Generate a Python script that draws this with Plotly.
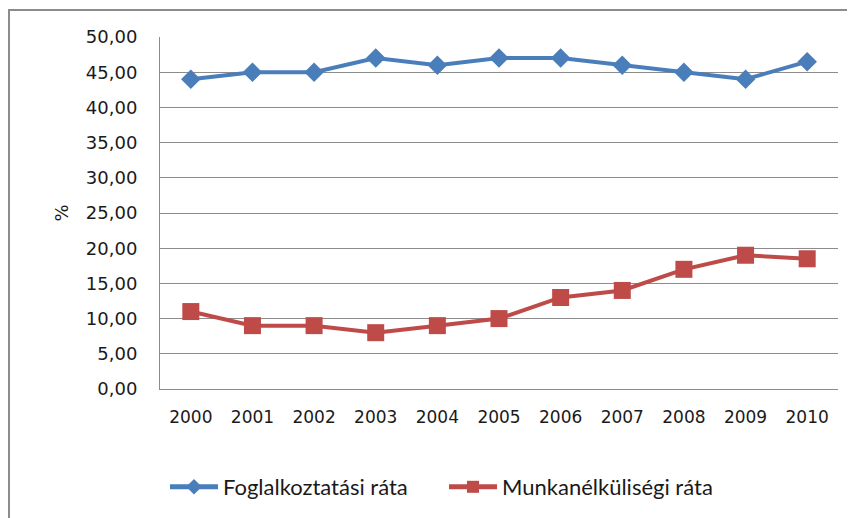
import plotly.graph_objects as go

years = ["2000", "2001", "2002", "2003", "2004", "2005", "2006", "2007", "2008", "2009", "2010"]
foglalkoztatasi = [44, 45, 45, 47, 46, 47, 47, 46, 45, 44, 46.5]
munkanelkulisegi = [11, 9, 9, 8, 9, 10, 13, 14, 17, 19, 18.5]
y_ticks = [0, 5, 10, 15, 20, 25, 30, 35, 40, 45, 50]
y_tick_labels = ["0,00", "5,00", "10,00", "15,00", "20,00", "25,00", "30,00", "35,00", "40,00", "45,00", "50,00"]

OFF = 8  # page body margin
W, H = 855, 518
L, T = 160 - OFF, 37 - OFF
R = W - (838 - OFF)
B = H - (389 - OFF)
pw, ph = W - L - R, H - T - B

def px_x(sx):
    return (sx - OFF - L) / pw

def px_y(sy):
    return (H - B - (sy - OFF)) / ph

fig = go.Figure()
fig.add_trace(go.Scatter(
    x=years, y=foglalkoztatasi, name="Foglalkoztatási ráta", mode="lines+markers",
    line=dict(color="#4A7EBB", width=4),
    marker=dict(symbol="diamond", size=15, color="#4A7EBB"),
))
fig.add_trace(go.Scatter(
    x=years, y=munkanelkulisegi, name="Munkanélküliségi ráta", mode="lines+markers",
    line=dict(color="#BE4B48", width=4),
    marker=dict(symbol="square", size=17, color="#BE4B48"),
))

# outer chart-area border (extends past right and bottom edges)
fig.add_shape(type="rect", xref="paper", yref="paper",
              x0=px_x(9), x1=px_x(W + 20),
              y0=px_y(H + 20), y1=px_y(10),
              line=dict(color="#8C8C8C", width=2), fillcolor="rgba(0,0,0,0)", layer="below")

fig.update_layout(
    width=W, height=H,
    margin=dict(l=L, r=R, t=T, b=B, autoexpand=False),
    paper_bgcolor="white", plot_bgcolor="white",
    font=dict(family="DejaVu Sans", size=17, color="#1a1a1a"),
    showlegend=True,
    legend=dict(orientation="h", x=px_x(165), xanchor="left", y=px_y(487),
                yanchor="middle", font=dict(family="Lato", size=22), itemwidth=48,
                itemsizing="constant", entrywidth=216, bgcolor="rgba(0,0,0,0)"),
    xaxis=dict(type="category", showgrid=False, showline=True, linecolor="#8C8C8C",
               linewidth=1, ticks="", mirror=False, tickfont=dict(size=17),
               range=[-0.5, len(years) - 0.5], ticklabelstandoff=13, automargin=False),
    yaxis=dict(range=[0, 50], tickvals=y_ticks, ticktext=y_tick_labels,
               showgrid=True, gridcolor="#8C8C8C", gridwidth=1,
               showline=True, linecolor="#8C8C8C", linewidth=1, zeroline=False,
               tickfont=dict(size=18), ticks="", ticklen=0, automargin=False,
               ticklabelstandoff=18,
               title=dict(text="%", font=dict(size=18), standoff=12)),
)
fig.write_html("out.html")
